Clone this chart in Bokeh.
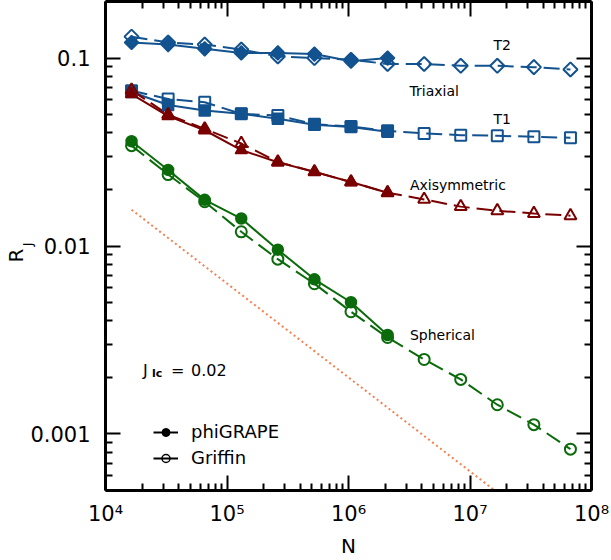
import numpy as np
from bokeh.plotting import figure
from bokeh.models import (LogAxis, FixedTicker, CustomJSTickFormatter, Label,
                          Legend, LegendItem, Range1d, Title)
from bokeh.embed import file_html
from bokeh.resources import INLINE

# ---------------- data ----------------
N_griffin = [16384, 32768, 65536, 131072, 262144, 524288, 1048576, 2097152,
             4194304, 8388608, 16777216, 33554432, 67108864]
N_phigrape = [16384, 32768, 65536, 131072, 262144, 524288, 1048576, 2097152]

t2_griffin = [0.130, 0.121, 0.118, 0.111, 0.102, 0.100, 0.098, 0.093,
              0.093, 0.091, 0.091, 0.0895, 0.087]
t2_phigrape = [0.121, 0.118, 0.112, 0.1065, 0.1065, 0.105, 0.0962, 0.100]

t1_griffin = [0.067, 0.0606, 0.0582, 0.0505, 0.0495, 0.0445, 0.0432, 0.041,
              0.0397, 0.0389, 0.0386, 0.0381, 0.0377]
t1_phigrape = [0.066, 0.0563, 0.0526, 0.0505, 0.0475, 0.0442, 0.0430, 0.0406]

axi_griffin = [0.0675, 0.050, 0.042, 0.0351, 0.028, 0.0248, 0.0219, 0.0192,
               0.0177, 0.0162, 0.0154, 0.0149, 0.0145]
axi_phigrape = [0.0643, 0.0491, 0.0413, 0.0324, 0.0279, 0.0248, 0.0219, 0.0192]

sph_griffin = [0.0342, 0.0240, 0.0172, 0.0119, 0.00851, 0.0063, 0.00447,
               0.00326, 0.00249, 0.00195, 0.00143, 0.00112, 0.00083]
sph_phigrape = [0.0361, 0.0254, 0.0176, 0.0140, 0.00956, 0.00665, 0.00502, 0.00336]

ref_N = [16384, 67108864]
ref_R = [0.0156, 0.000244]

x_tick_values = [1e4, 1e5, 1e6, 1e7, 1e8]
x_tick_labels = ["10\u2074", "10\u2075", "10\u2076", "10\u2077", "10\u2078"]
y_tick_values = [0.001, 0.01, 0.1]
y_tick_labels = ["0.001", "0.01", "0.1"]

legend_labels = ["phiGRAPE", "Griffin"]

BLUE = "#12528f"
RED = "#7a0000"
GREEN = "#0b6b0b"
ORANGE = "#f5804f"
FONT = "DejaVu Sans"

# ---------------- figure ----------------
p = figure(width=611, height=560, x_axis_type="log", y_axis_type="log",
           x_range=Range1d(1e4, 1e8), y_range=Range1d(5e-4, 0.2),
           output_backend="svg", toolbar_location=None,
           min_border_left=105, min_border_right=20, min_border_top=1,
           min_border_bottom=63)
p.xgrid.visible = False
p.ygrid.visible = False
p.outline_line_color = None
p.background_fill_color = "white"
p.border_fill_color = "white"

x_minor = [m * 10.0 ** e for e in range(4, 8) for m in range(2, 10)]
y_minor = [m * 10.0 ** e for e in range(-4, 0) for m in range(2, 10)]

fmt_code = """
const lt = Math.log10(tick);
for (let i = 0; i < vals.length; i++) {
  if (Math.abs(lt - Math.log10(vals[i])) < 1e-6) return labs[i];
}
return "";
"""
xfmt = CustomJSTickFormatter(args=dict(vals=x_tick_values, labs=x_tick_labels), code=fmt_code)
yfmt = CustomJSTickFormatter(args=dict(vals=y_tick_values, labs=y_tick_labels), code=fmt_code)
blank = CustomJSTickFormatter(code='return "";')


def style_axis(ax, ticks, minor):
    ax.ticker = FixedTicker(ticks=ticks, minor_ticks=minor)
    ax.axis_line_width = 3
    ax.axis_line_color = "black"
    ax.major_tick_in = 15
    ax.major_tick_out = 0
    ax.minor_tick_in = 7
    ax.minor_tick_out = 0
    ax.major_tick_line_width = 2
    ax.minor_tick_line_width = 2
    ax.major_tick_line_color = "black"
    ax.minor_tick_line_color = "black"
    ax.major_label_text_font = FONT
    ax.major_label_text_font_size = "21px"
    ax.major_label_text_color = "black"


xa = p.xaxis[0]
style_axis(xa, x_tick_values, x_minor)
xa.formatter = xfmt
xa.major_label_standoff = 11
xa.axis_label = "N"
xa.axis_label_text_font = FONT
xa.axis_label_text_font_size = "20px"
xa.axis_label_text_font_style = "normal"
xa.axis_label_text_color = "black"
xa.axis_label_standoff = 5

ya = p.yaxis[0]
style_axis(ya, y_tick_values, y_minor)
ya.formatter = yfmt
ya.major_label_standoff = 15

top = LogAxis()
style_axis(top, x_tick_values, x_minor)
top.formatter = blank
top.major_label_text_font_size = "1px"
top.major_label_standoff = 0
p.add_layout(top, "above")

right = LogAxis()
style_axis(right, y_tick_values, y_minor)
right.formatter = blank
right.major_label_text_font_size = "1px"
right.major_label_standoff = 0
p.add_layout(right, "right")

# y-axis title R_J, as side-panel titles
tJ = Title(text="J", text_font=FONT, text_font_size="13px", text_font_style="normal",
           text_color="black", align="right", vertical_align="middle",
           offset=241, standoff=-17)
tR = Title(text="R", text_font=FONT, text_font_size="20px", text_font_style="normal",
           text_color="black", align="right", vertical_align="bottom",
           offset=247, standoff=0)
p.add_layout(tJ, "left")
p.add_layout(tR, "left")

# ---------------- reference slope line ----------------
p.line(ref_N, ref_R, line_color=ORANGE, line_width=2, line_dash="2 3")

# ---------------- series ----------------
series = [
    (t2_griffin, t2_phigrape, BLUE, "diamond"),
    (t1_griffin, t1_phigrape, BLUE, "square"),
    (axi_griffin, axi_phigrape, RED, "triangle"),
    (sph_griffin, sph_phigrape, GREEN, "circle"),
]
sizes = {"diamond": 10, "square": 11, "triangle": 12, "circle": 11}

for g, ph, col, mk in series:
    p.line(N_griffin, g, line_color=col, line_width=2, line_dash="16 7")
    p.line(N_phigrape, ph, line_color=col, line_width=2)

for g, ph, col, mk in series:
    marker = "square" if mk == "diamond" else mk
    ang = np.pi / 4 if mk == "diamond" else 0.0
    p.scatter(N_griffin, g, marker=marker, angle=ang, size=sizes[mk],
              fill_color=None, line_color=col, line_width=2)
    p.scatter(N_phigrape, ph, marker=marker, angle=ang, size=sizes[mk],
              fill_color=col, line_color=col, line_width=1.5)

# ---------------- curve labels ----------------
def add_label(x, y, text, align="left", size="14px", **kw):
    p.add_layout(Label(x=x, y=y, text=text, text_align=align, text_baseline="middle",
                       text_font=FONT, text_font_size=size, text_color="black", **kw))

add_label(1.84e7, 0.1177, "T2", align="center")
add_label(3.18e6, 0.067, "Triaxial")
add_label(1.84e7, 0.0475, "T1", align="center")
add_label(3.2e6, 0.0212, "Axisymmetric")
add_label(3.2e6, 0.00336, "Spherical")

# J_lc = 0.02
p.add_layout(Label(x=37.5, y=120.3, x_units="screen", y_units="screen", text="J",
                   text_align="left", text_baseline="alphabetic",
                   text_font=FONT, text_font_size="16px", text_color="black"))
p.add_layout(Label(x=46.5, y=117, x_units="screen", y_units="screen", text="lc",
                   text_align="left", text_baseline="alphabetic",
                   text_font=FONT, text_font_size="11px", text_font_style="bold",
                   text_color="black"))
p.add_layout(Label(x=65.5, y=120.3, x_units="screen", y_units="screen", text="=",
                   text_align="left", text_baseline="alphabetic",
                   text_font=FONT, text_font_size="16px", text_color="black"))
p.add_layout(Label(x=85.5, y=120.3, x_units="screen", y_units="screen", text="0.02",
                   text_align="left", text_baseline="alphabetic",
                   text_font=FONT, text_font_size="16px", text_color="black"))

# ---------------- legend ----------------
nan = [float("nan")]
l1 = p.line(x=nan, y=nan, line_color="black", line_width=2)
s1 = p.scatter(x=nan, y=nan, marker="circle", size=8, fill_color="black", line_color="black")
l2 = p.line(x=nan, y=nan, line_color="black", line_width=2)
s2 = p.scatter(x=nan, y=nan, marker="circle", size=8, fill_color=None, line_color="black",
               line_width=1.5)
legend = Legend(items=[LegendItem(label=legend_labels[0], renderers=[l1, s1]),
                       LegendItem(label=legend_labels[1], renderers=[l2, s2])],
                location=(48, 22), border_line_color=None, background_fill_alpha=0,
                label_text_font=FONT, label_text_font_size="18px",
                label_text_color="black",
                glyph_width=25, glyph_height=20, label_standoff=13, spacing=5,
                padding=0, margin=0, label_height=20)
p.add_layout(legend)

open("out.html", "w").write(file_html(p, INLINE))
